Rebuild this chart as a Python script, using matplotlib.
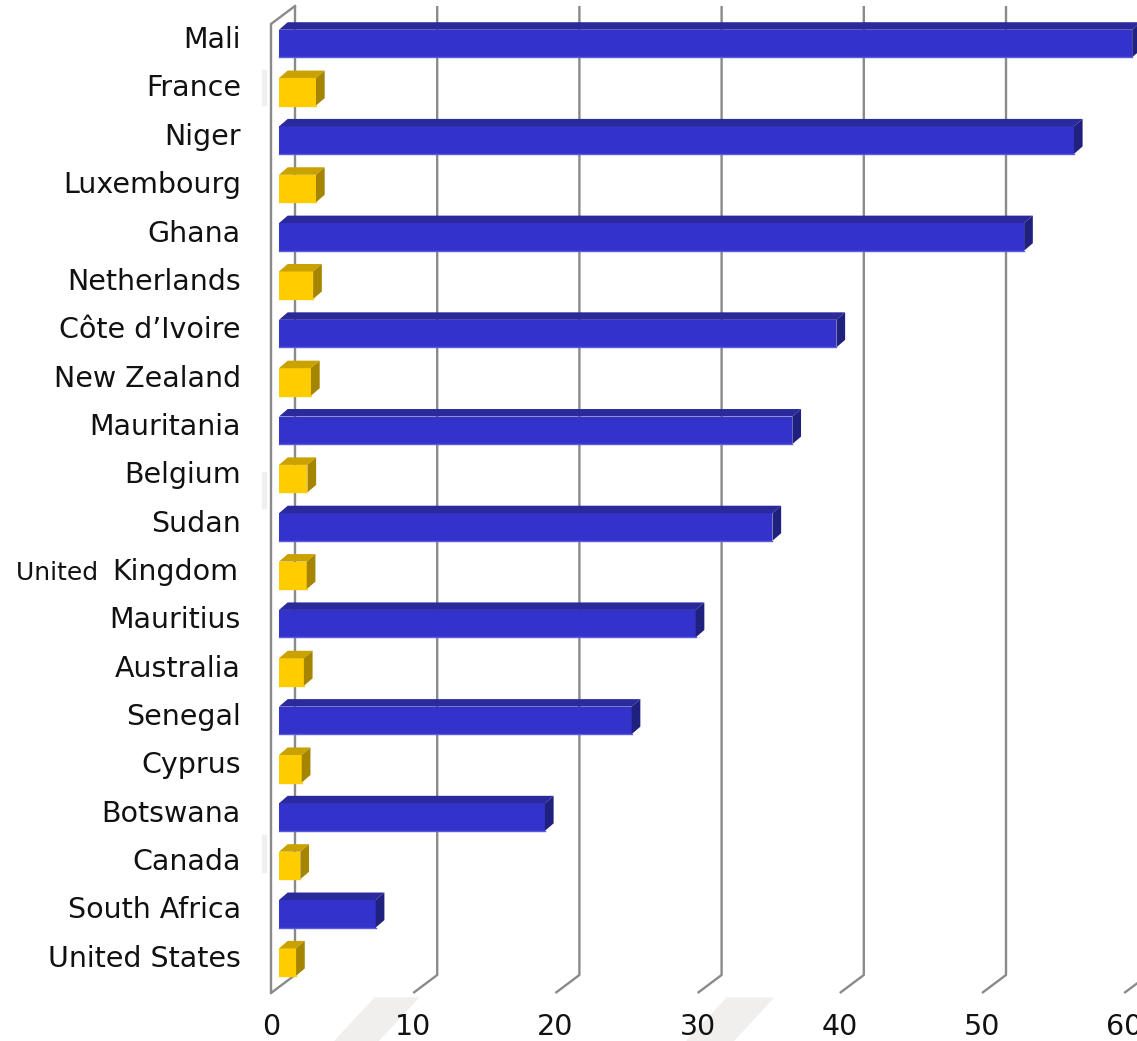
import matplotlib
matplotlib.use("Agg")
import matplotlib.pyplot as plt
from matplotlib.patches import Polygon
from matplotlib.transforms import IdentityTransform

countries = ["Mali", "France", "Niger", "Luxembourg", "Ghana", "Netherlands",
             "Côte d’Ivoire", "New Zealand", "Mauritania", "Belgium", "Sudan",
             "United Kingdom", "Mauritius", "Australia", "Senegal", "Cyprus",
             "Botswana", "Canada", "South Africa", "United States"]
values = [60.0, 2.6, 55.9, 2.6, 52.4, 2.4, 39.2, 2.25, 36.1, 2.0, 34.7,
          1.95, 29.3, 1.75, 24.8, 1.6, 18.7, 1.5, 6.8, 1.2]
groups = ["Africa", "Other"] * 10
xticks = [0, 10, 20, 30, 40, 50, 60]

faces = {
    "Africa": ("#3333cc", "#2a2a9c", "#20207e", "#5a5ae0"),
    "Other": ("#ffcc00", "#c9a200", "#a58500", "#ffcc00"),
}

W, H = 1137, 1041
fig = plt.figure(figsize=(W / 100, H / 100), dpi=100)
ax = fig.add_axes([0, 0, 1, 1])
ax.axis("off")

ppu = 14.22       # pixels per value unit
x0 = 279          # pixel of value 0 (bar front)
r0, rpx = 43.5, 48.35
ax.set_xlim(-x0 / ppu, (W - x0) / ppu)
ax.set_ylim((H - r0) / rpx, -r0 / rpx)

# 3D wall geometry (in data units)
front_dx, back_dx = -8 / ppu, 16 / ppu
back_top, back_bot = (6 - r0) / rpx, (975 - r0) / rpx
front_top, front_bot = (24 - r0) / rpx, (993 - r0) / rpx
grid_c = "#8a8a8a"

# faint background shapes
bg = "#f0efee"
for xs, ys in [([375, 418, 378, 335], [998, 998, 1041, 1041]),
               ([727, 773, 733, 687], [998, 998, 1041, 1041]),
               ([262, 266, 266, 262], [70, 70, 105, 105]),
               ([262, 266, 266, 262], [472, 472, 508, 508]),
               ([262, 266, 266, 262], [835, 835, 872, 872])]:
    ax.add_patch(Polygon(list(zip(xs, [H - y for y in ys])), closed=True,
                         transform=IdentityTransform(), color=bg, zorder=0))

for v in xticks:
    ax.plot([v + back_dx, v + back_dx, v + front_dx],
            [back_top, back_bot, front_bot], color=grid_c, lw=1.7, zorder=1,
            solid_capstyle="butt")
    ax.text(v + front_dx, (1027 - r0) / rpx, str(v), ha="center", va="center",
            fontsize=20.5, color="#111111", zorder=5)
# left wall
ax.plot([back_dx, front_dx, front_dx], [back_top, front_top, front_bot],
        color=grid_c, lw=1.7, zorder=1)

rows = list(range(len(countries)))
h = 0.57
ddx, ddy = 8.7 / ppu, -7.5 / rpx
for r, v, g in zip(rows, values, groups):
    front, top, side, edge = faces[g]
    ax.barh(r, v, height=h, left=0, color=front, edgecolor="none", zorder=3)
    ax.plot([0, v], [r + h / 2, r + h / 2], color=edge, lw=1, zorder=4)
    yt = r - h / 2
    ax.add_patch(Polygon([(0, yt), (v, yt), (v + ddx, yt + ddy), (ddx, yt + ddy)],
                         closed=True, color=top, zorder=3, lw=0))
    ax.add_patch(Polygon([(v, yt), (v, r + h / 2), (v + ddx, r + h / 2 + ddy),
                          (v + ddx, yt + ddy)], closed=True, color=side, zorder=3, lw=0))

lab_x = (241 - x0) / ppu
for r, name in zip(rows, countries):
    if name == "United Kingdom":
        t = ax.text(lab_x - 3 / ppu, r - 0.07, "Kingdom", ha="right", va="center",
                    fontsize=20.5, color="#111111")
        fig.canvas.draw()
        bb = t.get_window_extent()
        ax.text(bb.x0 - 6, (bb.y0 + bb.y1) / 2 - 1, "United ", ha="right", va="center",
                fontsize=18, color="#111111", transform=IdentityTransform())
    else:
        ax.text(lab_x, r - 0.07, name, ha="right", va="center",
                fontsize=20.5, color="#111111")

fig.savefig("out.png", dpi=100)
